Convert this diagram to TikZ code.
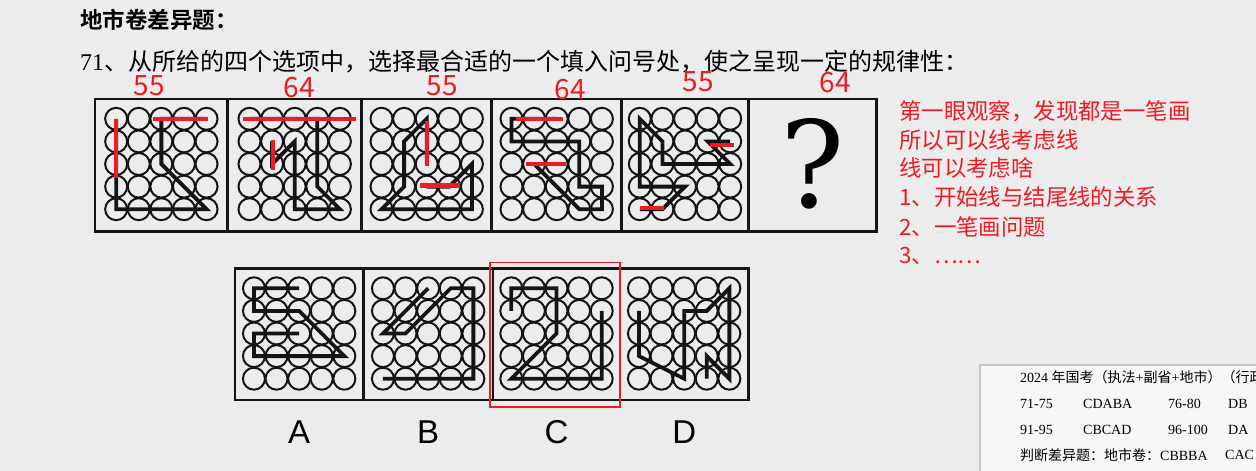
\documentclass[tikz,border=0pt]{standalone}
\usepackage{fontspec}
\setmainfont{Liberation Serif}
\newfontfamily\cjk{Noto Sans CJK SC}[BoldFont={Noto Sans CJK SC Bold}]
\newfontfamily\labelsans{Liberation Sans}
\newfontfamily\qfont{DejaVu Serif}
\definecolor{paper}{RGB}{236,236,236}
\definecolor{annot}{RGB}{237,28,36}
\definecolor{ink}{RGB}{20,20,20}
\tikzset{
    ring/.style={draw=ink, line width=2pt},
    track/.style={draw=ink, line width=3.8pt, line join=miter},
    redline/.style={draw=annot, line width=4.2pt},
    frame/.style={draw=ink, line width=2.6pt},
    note/.style={text=annot, anchor=west, inner sep=0pt, font=\cjk\fontsize{22.4}{22.4}\selectfont},
    count/.style={text=annot, inner sep=0pt, font=\cjk\fontsize{28}{28}\selectfont},
    choice/.style={inner sep=0pt, font=\labelsans\fontsize{33}{33}\selectfont},
    tabtext/.style={anchor=west, inner sep=0pt, font=\fontsize{14}{14}\selectfont}
}
% 5x5 ring grid, in grid units
\newcommand{\dotgrid}{%
    \foreach \c in {0,...,4}
        \foreach \r in {0,...,4}
            \draw[ring] (\c,\r) circle[radius=11pt];}

\begin{document}
\begin{tikzpicture}[x=1pt, y=-1pt]
    \useasboundingbox (0,0) rectangle (1256,471);
    \fill[paper] (0,0) rectangle (1256,471);

    % headings
    \node[anchor=west, inner sep=0pt, font=\cjk\bfseries\fontsize{22.5}{22.5}\selectfont] (title) at (80,20) {地市卷差异题：};
    \node[anchor=west, inner sep=0pt, font=\fontsize{24}{24}\selectfont] (question) at (80,62) {71{\cjk 、从所给的四个选项中，选择最合适的一个填入问号处，使之呈现一定的规律性：}};

    % question row
    \draw[frame] (95,99) rectangle (876.7,231.5);
    \foreach \x in {227.7,361.7,491.7,621.7,748.3}
        \draw[frame] (\x,99) -- (\x,231.5);

    % panel 1
    \begin{scope}[shift={(116.15,118.8)}, x=22.6pt, y=-22.6pt]
        \dotgrid
        \draw[track] (4,0) -- (2,0) -- (2,2) -- (4,4) -- (0,4) -- (0,0);
        \draw[redline] (0,0) -- (0,2.6);
        \draw[redline] (1.64,0) -- (4.08,0);
    \end{scope}
    % panel 2
    \begin{scope}[shift={(249.5,118.8)}, x=22.6pt, y=-22.6pt]
        \dotgrid
        \draw[track] (0,0) -- (3,0) -- (3,3) -- (4,4) -- (2,4) -- (2,1) -- (1,2) -- (1,1);
        \draw[redline] (-0.29,0) -- (4.73,0);
        \draw[redline] (1.04,0.92) -- (1.04,2.25);
    \end{scope}
    % panel 3
    \begin{scope}[shift={(381.5,118.8)}, x=22.6pt, y=-22.6pt]
        \dotgrid
        \draw[track] (2,2) -- (2,0) -- (1,1) -- (1,3) -- (0,4) -- (4,4) -- (4,2) -- (3,3) -- (2,3);
        \draw[redline] (2,0.08) -- (2,2.1);
        \draw[redline] (1.7,2.95) -- (3.47,2.95);
    \end{scope}
    % panel 4
    \begin{scope}[shift={(511.5,118.8)}, x=22.6pt, y=-22.6pt]
        \dotgrid
        \draw[track] (2,0) -- (0,0) -- (0,1) -- (3,1) -- (3,3) -- (4,3) -- (4,4) -- (3,4) -- (1,2) -- (2,2);
        \draw[redline] (0.21,0) -- (2.28,0);
        \draw[redline] (0.66,2) -- (2.42,2);
    \end{scope}
    % panel 5
    \begin{scope}[shift={(639.8,118.8)}, x=22.6pt, y=-22.6pt]
        \dotgrid
        \draw[track] (0,4) -- (1,4) -- (2,3) -- (0,3) -- (0,0) -- (1,1) -- (1,2) -- (4,2) -- (3,1) -- (4,1);
        \draw[redline] (3.12,1.17) -- (4.15,1.17);
        \draw[redline] (0.02,3.95) -- (1.06,3.95);
    \end{scope}
    % panel 6
    \node[inner sep=0pt, font=\qfont\fontsize{120}{120}\selectfont] (qmark) at (812.5,164) {?};

    % counts
    \node[count] (n1) at (149,86) {55};
    \node[count] (n2) at (299,88) {64};
    \node[count] (n3) at (442,86) {55};
    \node[count] (n4) at (570,90) {64};
    \node[count] (n5) at (698,82) {55};
    \node[count] (n6) at (835,83) {64};

    % answer row
    \draw[frame] (235,268.3) rectangle (748.3,400);
    \foreach \x in {363.3,493,620}
        \draw[frame] (\x,268.3) -- (\x,400);

    % A
    \begin{scope}[shift={(253.95,288.3)}, x=22.6pt, y=-22.6pt]
        \dotgrid
        \draw[track] (2,0) -- (0,0) -- (0,1) -- (2,1) -- (4,3) -- (0,3) -- (0,2) -- (2,2);
    \end{scope}
    % B
    \begin{scope}[shift={(382.95,288.3)}, x=22.6pt, y=-22.6pt]
        \dotgrid
        \draw[track] (0,4) -- (4,4) -- (4,0) -- (3,0) -- (1,2) -- (0,2) -- (2,0);
    \end{scope}
    % C
    \begin{scope}[shift={(511.3,288.3)}, x=22.6pt, y=-22.6pt]
        \dotgrid
        \draw[track] (0,1) -- (0,0) -- (2,0) -- (2,2) -- (0,4) -- (4,4) -- (4,1);
    \end{scope}
    % D
    \begin{scope}[shift={(638.95,288.3)}, x=22.6pt, y=-22.6pt]
        \dotgrid
        \draw[track] (0,1) -- (0,3) -- (2,4) -- (2,1) -- (3,1) -- (4,0) -- (4,4) -- (3,3) -- (3,4);
    \end{scope}

    \draw[annot, line width=1.6pt] (490,262.5) rectangle (620,407);

    \node[choice] (optA) at (299.2,432) {A};
    \node[choice] (optB) at (428.2,432) {B};
    \node[choice] (optC) at (556.5,432) {C};
    \node[choice] (optD) at (684.2,432) {D};

    % red notes
    \node[note] (note1) at (899,111) {第一眼观察，发现都是一笔画};
    \node[note] (note2) at (899,140) {所以可以线考虑线};
    \node[note] (note3) at (899,168) {线可以考虑啥};
    \node[note] (note4) at (899,197) {1、开始线与结尾线的关系};
    \node[note] (note5) at (899,226.5) {2、一笔画问题};
    \node[note] (note6) at (899,256) {3、……};

    % answer sheet
    \draw[draw=black!22, line width=2pt, fill=white!60!paper] (980,365) rectangle (1262,476);
    \node[tabtext] (head) at (1020,377) {2024 {\cjk 年国考（执法}+{\cjk 副省}+{\cjk 地市）（行政}};
    \node[tabtext] (r1a) at (1020,403.5) {71-75};
    \node[tabtext] (r1b) at (1083,403.5) {CDABA};
    \node[tabtext] (r1c) at (1168,403.5) {76-80};
    \node[tabtext] (r1d) at (1228,403.5) {DB};
    \node[tabtext] (r2a) at (1020,430) {91-95};
    \node[tabtext] (r2b) at (1083,430) {CBCAD};
    \node[tabtext] (r2c) at (1168,430) {96-100};
    \node[tabtext] (r2d) at (1228,430) {DA};
    \node[tabtext] (r3a) at (1020,455) {{\cjk 判断差异题：地市卷：}CBBBA};
    \node[tabtext] (r3b) at (1225,455) {CAC};
\end{tikzpicture}
\end{document}
